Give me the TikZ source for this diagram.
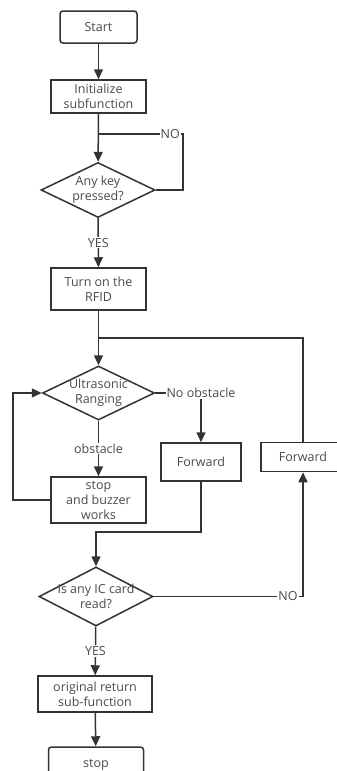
\documentclass[tikz,border=0pt]{standalone}
\usepackage{fontspec}
\setmainfont{Open Sans}
\usetikzlibrary{arrows.meta, shapes.geometric, positioning}
\definecolor{linegray}{HTML}{333333}
\definecolor{textgray}{HTML}{4A4A4A}
\newcommand{\flowfont}{\fontsize{12.5}{15}\selectfont}
\tikzset{%
	proc/.style={draw=linegray, rectangle, line width=1.5pt, text=textgray,%
		align=center, inner sep=0pt, font=\flowfont},
	term/.style={proc, rounded corners=3pt},
	decide/.style={draw=linegray, diamond, aspect=2, line width=1.5pt, text=textgray,%
		align=center, inner sep=-9pt, font=\flowfont},
	flow/.style={-{Triangle[length=10pt,width=9pt]}, line width=1.5pt, draw=linegray},
	link/.style={line width=1.5pt, draw=linegray},
	lbl/.style={fill=white, text=textgray, inner sep=1pt, font=\flowfont}
}

\begin{document}
\begin{tikzpicture}[x=1pt, y=-1pt]
	\useasboundingbox (0,0) rectangle (337,771);
	\node[term, minimum width=77pt, minimum height=32pt] (start) at (98.5,27) {Start};
	\node[proc, minimum width=95pt, minimum height=33pt] (init) at (98.5,96.5) {Initialize\\subfunction};
	\node[decide, minimum width=114pt, minimum height=55pt] (key) at (98,190) {Any key\\pressed?};
	\node[proc, minimum width=95pt, minimum height=42pt] (rfid) at (98.5,289) {Turn on the\\RFID};
	\node[decide, minimum width=112pt, minimum height=54pt] (range) at (98.5,393) {Ultrasonic\\Ranging};
	\node[proc, minimum width=95pt, minimum height=46pt] (buzz) at (98.5,500) {stop\\and buzzer\\works};
	\node[proc, minimum width=80pt, minimum height=38pt] (fwdA) at (201,462) {Forward};
	\node[proc, minimum width=84pt, minimum height=29pt] (fwdB) at (303,457) {Forward};
	\node[decide, minimum width=114pt, minimum height=59pt] (card) at (96,596.5) {Is any IC card\\read?};
	\node[proc, minimum width=114pt, minimum height=36pt] (ret) at (95,694) {original return\\sub-function};
	\node[term, minimum width=95pt, minimum height=36pt] (stop) at (96,765) {stop};

	\coordinate (keyjoin) at (98,134);
	\coordinate (rangejoin) at (98.5,338);
	\coordinate (cardjoin) at (96,532);

	\draw[flow] (start) -- (init);
	\draw[flow] (init) -- (key);
	\draw[link] (key.east) -- (183,190) -- (183,134) -- node[lbl, pos=0.15]{NO} (keyjoin);
	\draw[flow] (key) -- node[lbl]{YES} (rfid);
	\draw[flow] (rfid) -- (range);
	\draw[link] (fwdB.north) |- (rangejoin);
	\draw[flow] (range) -- node[lbl, pos=0.5]{obstacle} (buzz);
	\draw[flow] (buzz.west) -- (13,500) -- (13,393) -- (range.west);
	\draw[flow] (range.east) -- (201,393) node[lbl]{No obstacle} -- (fwdA.north);
	\draw[flow] (fwdA.south) |- (cardjoin) -- (card.north);
	\draw[flow] (card.east) -- (303,596.5) node[lbl, pos=0.9]{NO} -- (fwdB.south);
	\draw[flow] (card) -- node[lbl]{YES} (ret);
	\draw[flow] (ret) -- (stop);
\end{tikzpicture}
\end{document}
